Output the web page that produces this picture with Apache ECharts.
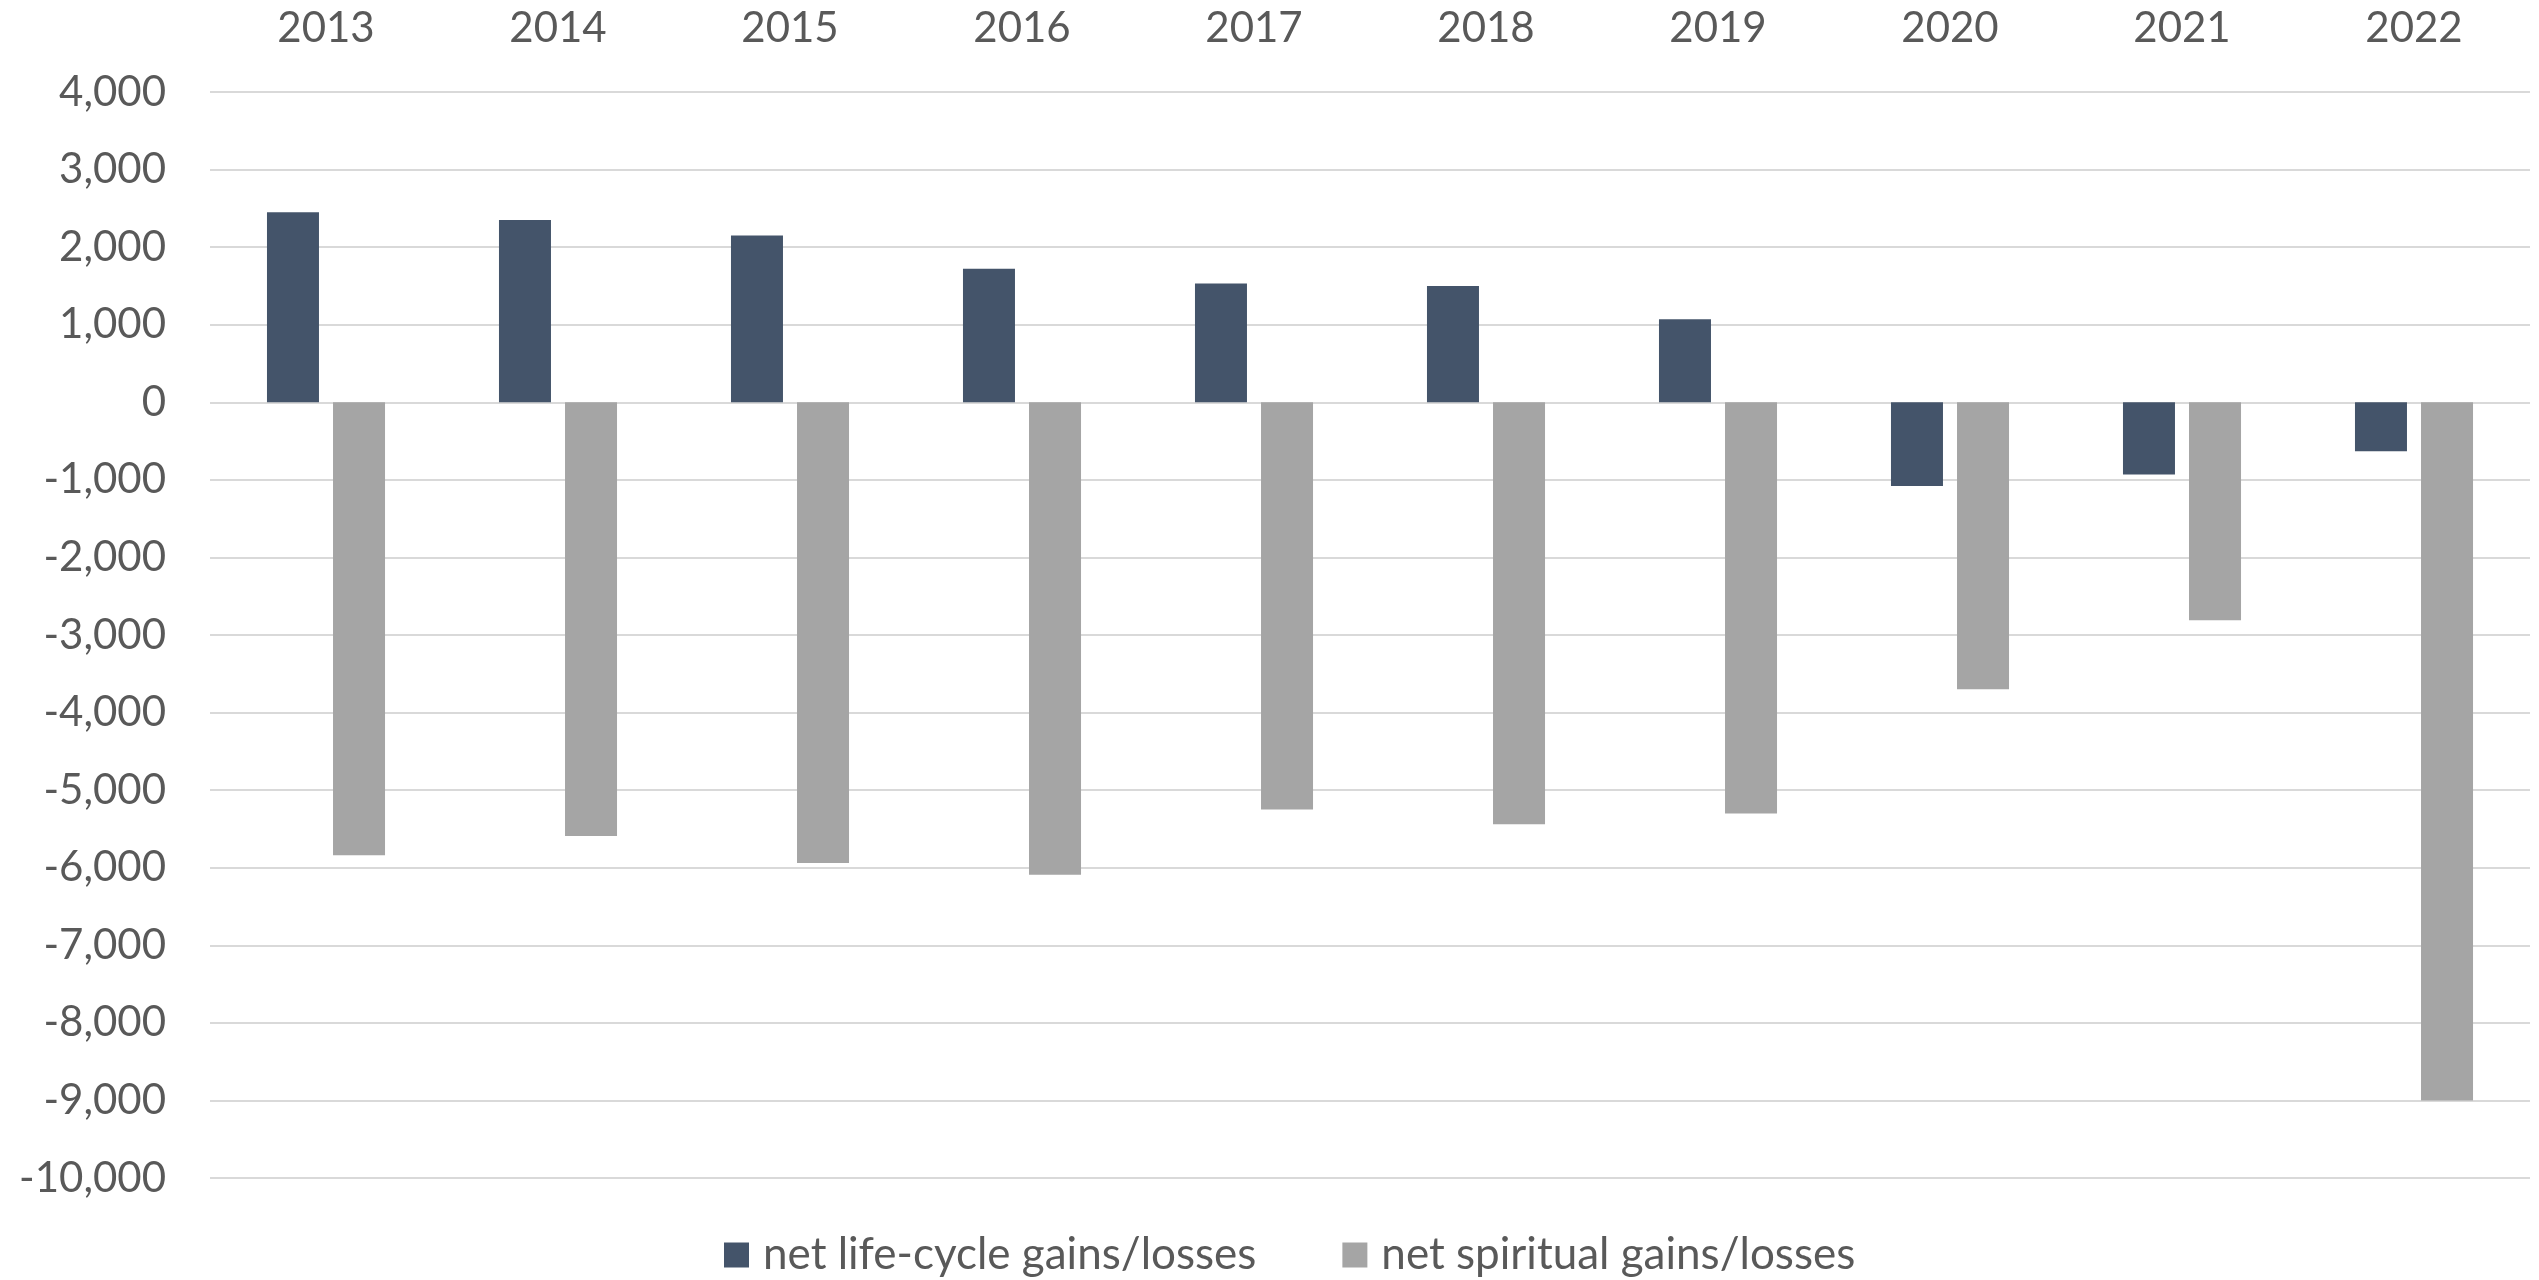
<!DOCTYPE html>
<html>
<head>
<meta charset="utf-8">
<title>net gains/losses</title>
<script src="https://cdn.jsdelivr.net/npm/echarts@6/dist/echarts.min.js"></script>
<style>
  html, body { margin: 0; padding: 0; background: #fff; }
  #main { width: 2539px; height: 1280px; }
</style>
</head>
<body>
<div id="main"></div>
<script>
// data
var years = ['2013', '2014', '2015', '2016', '2017', '2018', '2019', '2020', '2021', '2022'];
var lifeCycle = [2450, 2350, 2150, 1720, 1530, 1500, 1070, -1080, -930, -630];
var spiritual = [-5840, -5590, -5940, -6090, -5250, -5440, -5300, -3700, -2810, -9000];
var seriesNames = ['net life-cycle gains/losses', 'net spiritual gains/losses'];

var myChart = echarts.init(document.getElementById('main'));

var txt = '#595959';
var font = 'Lato';

var option = {
  animation: false,
  backgroundColor: '#ffffff',
  textStyle: { fontFamily: font },
  grid: { left: 210, right: 9, top: 92, bottom: 102 },
  legend: {
    left: 719,
    top: 1228,
    icon: 'rect',
    itemWidth: 25,
    itemHeight: 25,
    itemGap: 86,
    textStyle: { color: txt, fontSize: 44, fontFamily: font, padding: [0, 0, 0, 9] },
    data: seriesNames
  },
  xAxis: {
    type: 'category',
    position: 'top',
    data: years,
    axisLine: { show: false },
    axisTick: { show: false },
    axisLabel: { color: txt, fontSize: 42, fontFamily: font, margin: 43 }
  },
  yAxis: {
    type: 'value',
    min: -10000,
    max: 4000,
    interval: 1000,
    axisLine: { show: false },
    axisTick: { show: false },
    axisLabel: {
      color: txt, fontSize: 42, fontFamily: font, margin: 44,
      formatter: function (v) { return v.toLocaleString('en-US'); }
    },
    splitLine: { lineStyle: { color: '#d9d9d9', width: 2 } }
  },
  series: [
    {
      name: seriesNames[0],
      type: 'bar',
      data: lifeCycle,
      barWidth: 52,
      barGap: '27%',
      itemStyle: { color: '#44546a' }
    },
    {
      name: seriesNames[1],
      type: 'bar',
      data: spiritual,
      barWidth: 52,
      barGap: '27%',
      itemStyle: { color: '#a5a5a5' }
    }
  ]
};

myChart.setOption(option);
</script>
</body>
</html>
